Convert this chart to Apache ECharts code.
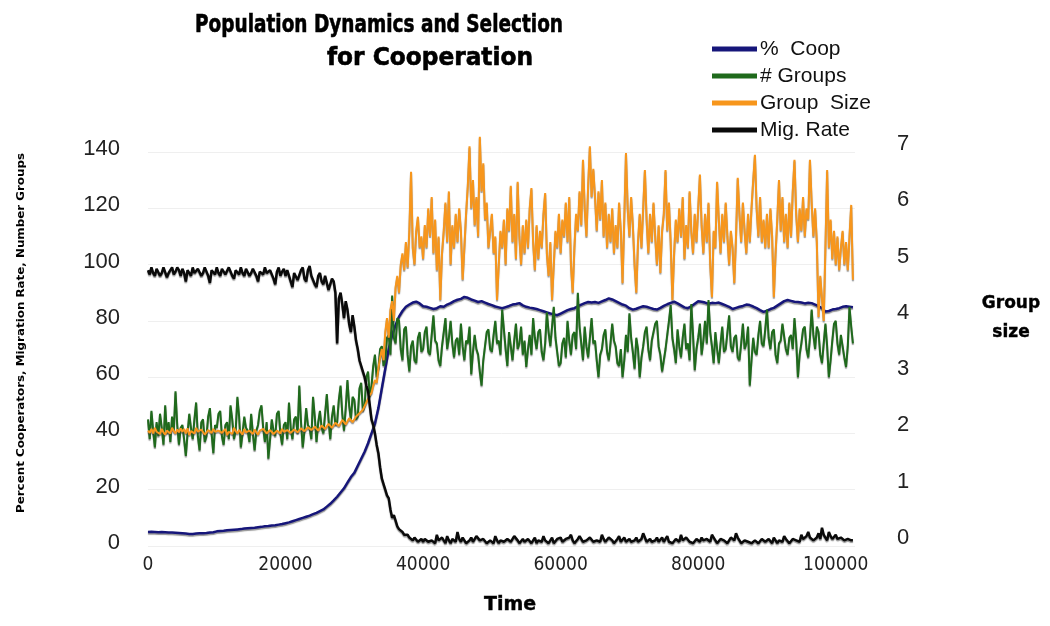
<!DOCTYPE html>
<html>
<head>
<meta charset="utf-8">
<script src="https://cdn.jsdelivr.net/npm/echarts@6/dist/echarts.min.js"></script>
<style>
html,body{margin:0;padding:0;background:#fff;}
#chart{width:1050px;height:626px;}
</style>
</head>
<body>
<div id="chart"></div>
<script>
// ---- data ----
const seriesNames = ['%  Coop', '# Groups', 'Group  Size', 'Mig. Rate'];
const xTicks = [0, 20000, 40000, 60000, 80000, 100000];

// % cooperators, sampled every 500 time steps
const coopStep = 500;
const coop = [
5, 5.1, 5, 4.9, 5, 4.9, 4.8, 4.8, 4.7, 4.6,
4.5, 4.4, 4.3, 4.3, 4.4, 4.5, 4.5, 4.6, 4.8, 4.9,
5.2, 5.3, 5.4, 5.6, 5.7, 5.8, 5.9, 6.0, 6.2, 6.3,
6.4, 6.5, 6.7, 6.8, 7.0, 7.1, 7.3, 7.4, 7.6, 7.8,
8.1, 8.4, 8.8, 9.2, 9.6, 10, 10.4, 10.8, 11.3, 11.8,
12.4, 13, 14, 15, 16.2, 17.5, 19, 20.5, 22.5, 24.5,
26, 28.5, 31, 33.5, 36.5, 40, 43.5, 49, 56, 63,
70, 75, 78.5, 81.5, 83.5, 85, 85.8, 86.5, 86.8, 86.2,
85.2, 85, 84.6, 84.2, 84.5, 85.2, 85, 85.8, 86.3, 87,
87.5, 87.8, 88.5, 88.2, 87.6, 87.2, 86.7, 87, 86.5, 86,
85.6, 85.1, 84.8, 84.5, 84.9, 85.3, 85.8, 86, 86.3, 85.5,
85, 84.7, 84.5, 84.2, 83.8, 83.4, 83, 82.6, 82.3, 82,
82.6, 83.2, 83.8, 84.2, 84.5, 85.2, 85.8, 86.3, 86.7, 86.5,
86.7, 86.4, 86.9, 87.4, 88, 87.6, 87, 86.4, 85.8, 85.4,
84.5, 84, 84.3, 84.8, 85.2, 85, 84.6, 84.2, 84, 84.6,
85.3, 85.9, 86.4, 86.8, 86.2, 85.5, 84.8, 84.5, 85.2, 86.1,
87, 86.8, 86.5, 86.1, 86.4, 86.3, 86.5, 86, 85.5, 85,
84.2, 84.6, 85, 85.3, 85.8, 85.6, 85.1, 84.5, 83.8, 83.2,
83.6, 84.2, 84.6, 85.4, 86.2, 87, 87.4, 87.1, 86.8, 86.7,
86.5, 86.2, 86.4, 86.3, 85.8, 85.2, 84.5, 83.3, 83.5, 84,
84.2, 84.5, 85, 85.2, 85, 84.8
];

// number of groups, sampled every 250 time steps
const denseStep = 250;
const groups = [
45, 38, 48, 41, 35, 44, 39, 47, 42, 36, 50, 40, 44, 37, 46, 41, 55, 43, 36, 42,
43, 38, 32, 40, 47, 42, 38, 45, 51, 39, 34, 44, 45, 37, 39, 46, 49, 40, 33, 43,
42, 47, 48, 39, 36, 43, 44, 38, 50, 45, 38, 41, 53, 46, 35, 40, 46, 42, 41, 37,
47, 40, 34, 41, 43, 48, 50, 42, 37, 44, 31, 38, 45, 41, 39, 47, 48, 40, 36, 43,
44, 38, 51, 42, 38, 45, 46, 40, 57, 44, 35, 41, 49, 43, 42, 38, 53, 46, 37, 44,
48, 42, 40, 47, 54, 45, 38, 46, 50, 43, 44, 52, 57, 47, 41, 49, 59, 50, 45, 53,
52, 45, 46, 56, 58, 48, 50, 60, 62, 53, 57, 64, 68, 60, 63, 70, 71, 64, 66, 74,
75, 68, 89, 74, 72, 81, 80, 70, 66, 77, 78, 68, 62, 71, 73, 66, 65, 74, 76, 69,
70, 76, 78, 69, 68, 75, 82, 73, 72, 66, 64, 71, 76, 81, 70, 74, 80, 72, 67, 73,
74, 68, 79, 71, 66, 73, 72, 78, 61, 69, 75, 70, 68, 62, 57, 66, 71, 76, 77, 70,
69, 75, 80, 72, 73, 68, 84, 77, 70, 64, 76, 71, 66, 73, 79, 70, 72, 78, 68, 73,
63.6, 70, 75, 68, 81, 74, 70, 76, 77, 69, 66, 72, 83, 76, 71, 78, 85, 74, 69, 64,
65, 72, 74, 67, 80, 73, 68, 75, 76, 70, 90, 78, 72, 66, 78, 71, 67, 74, 81, 72,
73, 66, 60, 68, 70, 75, 77, 69, 66, 72, 79, 73, 71, 65, 64, 70, 60, 66, 75, 69,
82.7, 74, 69, 63, 74, 70, 60, 67, 71, 76, 78, 70, 66, 73, 73, 79, 80, 71, 68, 62,
61.5, 70, 75, 80, 85.6, 74, 70, 65, 77, 71, 67, 74, 79, 70, 72, 66, 86, 75, 62.5, 70,
74, 79, 68, 73, 80, 72, 87.4, 76, 71, 65, 76, 70, 65, 72, 78, 69, 70, 76, 82, 71,
69, 74, 75, 67, 66, 72, 79, 70, 72, 78, 57, 66, 74, 69, 68, 75, 80, 72, 71, 77,
84, 74, 70, 76, 77, 68, 65, 72, 73, 79, 79, 70, 68, 74, 75, 70, 81, 73, 60, 68,
72, 77, 78, 70, 67, 74, 84, 75, 70, 78, 76, 68, 65, 72, 79, 71, 60, 66, 73, 79,
80, 72, 68, 75, 75, 67, 63.6, 71, 85, 78, 72
];

// group size (right axis), sampled every 250 time steps
const groupSize = [
2.05, 2.01, 2.08, 2.0, 2.1, 2.03, 2.06, 1.99, 2.08, 2.02, 1.98, 2.05, 2.07, 2.0, 2.1, 2.04, 2.0, 2.07, 2.02, 2.09,
2.03, 2.08, 2.0, 2.09, 1.97, 2.04, 2.06, 2.0, 2.1, 2.03, 2.0, 2.07, 2.05, 1.98, 1.99, 2.06, 2.04, 2.01, 2.08, 2.03,
2.0, 2.05, 2.07, 2.01, 2.02, 2.08, 1.97, 2.03, 2.05, 1.99, 2.1, 2.04, 2.0, 2.06, 2.04, 1.98, 2.08, 2.02, 1.99, 2.05,
2.03, 1.99, 2.07, 2.02, 1.98, 2.05, 2.02, 2.08, 2.06, 2.0, 2.0, 2.06, 2.04, 1.99, 1.97, 2.05, 2.03, 2.0, 2.08, 2.03,
2.0, 2.06, 2.05, 2.01, 2.02, 2.07, 2.08, 2.02, 2.03, 2.09, 2.1, 2.04, 2.05, 2.11, 2.12, 2.06, 2.06, 2.12, 2.1, 2.05,
2.08, 2.14, 2.14, 2.08, 2.1, 2.17, 2.16, 2.1, 2.12, 2.19, 2.2, 2.13, 2.15, 2.24, 2.22, 2.16, 2.18, 2.27, 2.26, 2.2,
2.22, 2.3, 2.28, 2.36, 2.33, 2.42, 2.45, 2.55, 2.52, 2.68, 2.72, 2.85, 2.95, 2.9, 3.15, 3.35, 3.5, 3.3, 3.8, 4.05,
3.7, 4.2, 4.35, 4.0, 4.6, 4.8, 4.5, 5.0, 5.2, 4.9, 5.4, 4.95, 5.6, 6.65, 5.3, 5.0, 5.6, 5.85, 5.3, 5.5,
5.1, 5.7, 5.3, 6.0, 5.5, 6.2, 5.2, 5.8, 4.9, 5.5, 4.37, 5.2, 5.6, 6.1, 5.4, 6.3, 5.0, 5.7, 5.3, 5.9,
5.4, 6.0, 5.6, 4.73, 5.3, 5.9, 6.4, 7.1, 6.0, 6.5, 5.7, 6.2, 5.5, 7.27, 6.3, 6.8, 5.8, 6.1, 5.3, 5.6,
5.9, 5.2, 5.5, 4.37, 5.0, 5.6, 5.3, 5.8, 5.0, 6.0, 5.6, 6.4, 5.4, 5.9, 5.1, 6.47, 5.5, 5.0, 5.7, 5.2,
5.8, 5.3, 6.0, 6.36, 5.4, 4.9, 5.7, 5.1, 5.6, 5.3, 5.9, 6.27, 5.2, 4.8, 5.4, 4.37, 5.0, 5.6, 5.3, 5.9,
5.2, 5.8, 5.5, 6.1, 5.4, 6.2, 5.0, 4.5, 5.3, 5.9, 5.6, 6.3, 5.7, 6.86, 6.0, 5.5, 6.4, 7.1, 6.2, 6.7,
6.2, 5.6, 6.3, 5.8, 6.5, 5.5, 6.1, 5.3, 5.9, 5.4, 6.0, 5.2, 5.7, 5.3, 6.1, 5.6, 4.67, 5.8, 6.98, 6.0,
5.5, 6.2, 5.7, 5.0, 4.5, 5.4, 5.9, 5.3, 6.0, 6.68, 5.8, 5.2, 5.9, 5.4, 6.1, 5.5, 5.0, 5.7, 4.85, 5.6,
5.9, 6.68, 5.6, 6.1, 5.4, 4.37, 5.2, 5.8, 5.4, 6.0, 5.5, 6.2, 5.1, 5.7, 5.3, 6.3, 5.6, 5.2, 5.9, 5.4,
6.0, 6.6, 5.7, 5.2, 5.9, 5.4, 6.1, 5.0, 4.42, 5.6, 5.3, 6.47, 5.8, 5.2, 5.9, 5.4, 6.1, 5.5, 5.0, 5.6,
5.3, 4.67, 5.5, 6.54, 5.9, 5.4, 6.1, 5.6, 5.2, 5.9, 5.4, 6.0, 6.5, 6.95, 6.0, 5.5, 6.2, 5.4, 5.8, 5.3,
5.9, 5.3, 6.0, 5.5, 4.42, 5.2, 5.8, 6.5, 5.6, 6.2, 5.4, 5.9, 5.3, 6.1, 5.5, 6.3, 6.86, 5.9, 5.4, 6.0,
5.6, 6.2, 5.5, 6.0, 5.8, 6.86, 6.1, 5.5, 6.0, 5.4, 4.07, 4.8, 4.4, 4.0, 5.3, 6.68, 5.3, 5.8, 5.1, 5.6,
5.0, 5.5, 4.9, 5.3, 5.6, 5.0, 5.4, 4.9, 5.5, 6.06, 4.73
];

// migration rate, sampled every 250 time steps
const migRate = [
98, 96.5, 99, 97, 96, 98.5, 98.5, 96, 97, 99, 99, 95.5, 97, 98, 99, 96.5, 97.5, 99, 98, 96,
98.5, 97, 94, 98, 98, 96, 99, 97, 96.5, 98.5, 98, 96, 97, 99, 99, 96, 93.5, 98, 98, 96.5,
99, 97, 96, 98.5, 98.5, 96.5, 97, 99, 99, 96, 95, 98, 98, 96.5, 99, 97, 96, 98.5, 98, 96,
97, 98.5, 99, 96, 94, 97.5, 98, 96.5, 99, 97, 96.5, 98, 98, 95, 93, 97.5, 99, 96, 97.5, 98.5,
96, 98, 98, 94, 92, 97, 97, 94.5, 95, 98, 99, 95, 94, 98, 99.5, 96, 96, 93, 92, 96,
97, 94, 93, 96, 96, 91, 91, 95, 94, 90, 72, 88, 90, 86, 81, 87, 84, 79, 76, 82,
78, 73, 70, 66, 66, 62, 60, 57, 55, 50, 45, 43, 40, 36, 33, 28, 24, 22, 20, 18,
17, 13, 10, 11, 9, 7, 6, 6.5, 5, 4, 3.5, 4, 3, 2.5, 2, 3, 2.5, 1.5, 1.5, 2.5,
1.5, 2.5, 3, 1.5, 1, 2, 2.5, 1, 4, 2, 1.5, 3, 2, 1, 3.5, 2, 1, 2.5, 2, 1.5,
5, 2.5, 1.5, 3, 2.5, 1, 1, 2, 3, 1.5, 2, 3.5, 4, 2, 1.5, 2.5, 2.5, 1, 1, 2,
2, 1, 3.5, 2, 1, 2, 2.5, 1.5, 1.5, 2.5, 3, 1.5, 2, 3.5, 4, 2, 1, 1.5, 2.5, 1.5,
1.5, 2.5, 3, 1, 2, 3, 1, 2, 2.5, 1.5, 3.5, 2, 1.5, 1, 2, 3, 1, 1.5, 2.5, 2,
3, 1.5, 1.5, 2.5, 2, 3, 4, 2, 1, 1.5, 2.5, 3.5, 3, 1.5, 1.5, 2, 2, 3, 3.5, 1.5,
1, 2, 2.5, 1.5, 4, 2.5, 1.5, 1, 3, 2.5, 2, 1, 1, 2.5, 3.5, 1.5, 2, 3, 1.5, 1,
2.5, 1.5, 1, 2, 3, 1.5, 2, 2.5, 4.5, 3, 1.5, 1, 2.5, 1.5, 1, 2, 3, 1.5, 2, 3,
1.5, 2.5, 3.5, 1.5, 2, 1, 1, 2.5, 2.5, 1.5, 4, 2, 1.5, 3, 3, 1.5, 2, 1, 1, 2.5,
2, 1.5, 3, 2, 1.5, 2.5, 2.5, 1.5, 4, 3, 2, 1, 1, 2.5, 3, 2, 1.5, 1, 2, 3,
3, 2, 4.5, 3, 2, 1, 1, 2, 2.5, 1.5, 1.5, 1, 1, 2, 2, 1, 1.5, 2.5, 2.5, 1.5,
1.5, 2.5, 2, 1, 3, 2, 1, 2, 2.5, 1.5, 3.5, 2.5, 2, 1, 1.5, 2.5, 3, 2, 2, 1.5,
4, 2.5, 2, 3.5, 5, 3, 3, 2, 2, 3, 4.5, 2.5, 6.5, 4, 3, 2, 5, 3.5, 2.5, 3,
4, 2.5, 2, 3, 3.5, 2, 1.5, 2.5, 3, 2, 2
];

const pairs = (arr, step) => arr.map((v, i) => [i * step, v]);

// ---- styling helpers ----
const chart = echarts.init(document.getElementById('chart'), null, {renderer: 'canvas'});
const mctx = document.createElement('canvas').getContext('2d');
function fitScale(text, font, target) {
  mctx.font = font;
  const w = mctx.measureText(text).width;
  return w > 0 ? target / w : 1;
}
const titleFont = 'bold 24px "DejaVu Sans"';
const t1 = 'Population Dynamics and Selection';
const t2 = 'for Cooperation';
const yNameFont = 'bold 11px "DejaVu Sans"';
const yName = 'Percent Cooperators, Migration Rate, Number Groups';

const shadow = {shadowColor: 'rgba(60,60,60,0.55)', shadowBlur: 1, shadowOffsetY: 1.5};
const colors = ['#16167a', '#1f6a1c', '#f7961c', '#0a0a0a'];
const widths = [2.5, 2, 2, 2.5];

function lineSeries(i, data, step, yAxisIndex) {
  return {
    name: seriesNames[i],
    type: 'line',
    yAxisIndex: yAxisIndex,
    data: pairs(data, step),
    color: colors[i],
    showSymbol: false,
    symbol: 'none',
    clip: false,
    lineStyle: Object.assign({color: colors[i], width: widths[i]}, shadow),
    z: 2 + i
  };
}

const option = {
  animation: false,
  backgroundColor: '#fff',
  grid: {left: 148, right: 195, top: 152, bottom: 80},
  legend: {
    orient: 'vertical',
    left: 707,
    top: 33,
    icon: 'rect',
    itemWidth: 45,
    itemHeight: 5,
    itemGap: 5,
    data: seriesNames,
    textStyle: {fontFamily: 'Liberation Sans', fontSize: 21, color: '#111', lineHeight: 22, padding: [0, 0, 0, -2]}
  },
  xAxis: {
    type: 'value',
    min: 0,
    max: 102800,
    interval: 20000,
    axisLine: {show: false},
    axisTick: {show: false},
    splitLine: {show: false},
    axisLabel: {
      margin: 10,
      fontFamily: '"Liberation Sans Narrow", "DejaVu Sans Condensed", sans-serif',
      fontSize: 19,
      color: '#222',
      formatter: v => (xTicks.indexOf(v) >= 0 ? String(v) : '')
    }
  },
  yAxis: [
    {
      type: 'value',
      min: 0,
      max: 140,
      interval: 20,
      axisLine: {show: false},
      axisTick: {show: false},
      splitLine: {lineStyle: {color: '#efefef', width: 1}},
      axisLabel: {margin: 28, fontFamily: 'Liberation Sans', fontSize: 22, color: '#222',
                  verticalAlign: 'bottom', lineHeight: 6}
    },
    {
      type: 'value',
      min: 0,
      max: 7,
      interval: 1,
      position: 'right',
      axisLine: {show: false},
      axisTick: {show: false},
      splitLine: {show: false},
      axisLabel: {margin: 42, fontFamily: 'Liberation Sans', fontSize: 22, color: '#222',
                  verticalAlign: 'bottom', lineHeight: 16}
    }
  ],
  series: [
    lineSeries(0, coop, coopStep, 0),
    lineSeries(1, groups, denseStep, 0),
    lineSeries(2, groupSize, denseStep, 1),
    lineSeries(3, migRate, denseStep, 0)
  ],
  graphic: [
    {type: 'text', x: 379, y: 26, scaleX: fitScale(t1, titleFont, 368),
     style: {text: t1, font: titleFont, fill: '#000', stroke: '#000', lineWidth: 0.6, align: 'center', verticalAlign: 'middle'}},
    {type: 'text', x: 430, y: 59, scaleX: fitScale(t2, titleFont, 206),
     style: {text: t2, font: titleFont, fill: '#000', stroke: '#000', lineWidth: 0.6, align: 'center', verticalAlign: 'middle'}},
    {type: 'text', x: 21, y: 333, rotation: Math.PI / 2, scaleX: fitScale(yName, yNameFont, 360),
     style: {text: yName, font: yNameFont, fill: '#000', align: 'center', verticalAlign: 'middle'}},
    {type: 'text', x: 1011, y: 318,
     style: {text: 'Group\nsize', font: 'bold 17px "DejaVu Sans"', fill: '#000', stroke: '#000', lineWidth: 0.4, align: 'center', verticalAlign: 'middle', lineHeight: 29}},
    {type: 'text', x: 510, y: 605,
     style: {text: 'Time', font: 'bold 19px "DejaVu Sans"', fill: '#000', stroke: '#000', lineWidth: 0.4, align: 'center', verticalAlign: 'middle'}}
  ]
};
chart.setOption(option);
</script>
</body>
</html>
